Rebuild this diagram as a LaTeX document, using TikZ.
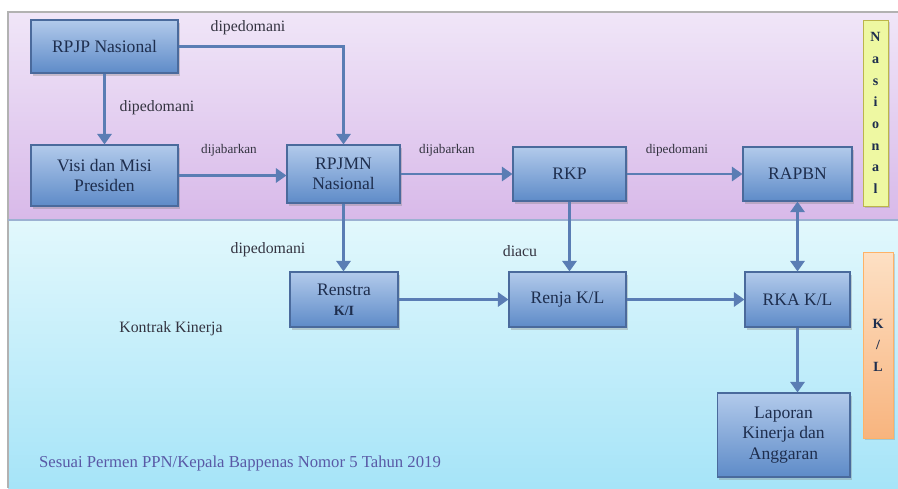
\documentclass[tikz,border=0pt]{standalone}
\usepackage{fontspec}
\setmainfont{Liberation Serif}
\usetikzlibrary{arrows.meta,shadows}

\definecolor{ungu1}{HTML}{F0E6F8}
\definecolor{ungu2}{HTML}{D8B9E9}
\definecolor{cyan1}{HTML}{E2F8FC}
\definecolor{cyan2}{HTML}{A6E4F8}
\definecolor{biru1}{HTML}{B2CAEB}
\definecolor{biru2}{HTML}{5E8BC8}
\definecolor{garis}{HTML}{4A6A9C}
\definecolor{alur}{HTML}{5A7DB4}
\definecolor{teks}{HTML}{1E2E4E}
\definecolor{teks2}{HTML}{333340}
\definecolor{hijau}{HTML}{EEF8A2}
\definecolor{oren1}{HTML}{FDE0C4}
\definecolor{oren2}{HTML}{F8B47E}

\tikzset{
  kotak/.style={draw=garis, line width=0.6pt, top color=biru1, bottom color=biru2,
    drop shadow={opacity=0.35, shadow xshift=1pt, shadow yshift=-1.5pt},
    align=center, text=teks, font=\fontsize{10}{11.5}\selectfont, inner sep=2pt},
  panah/.style={draw=alur, line width=1.6pt, -{Triangle[length=6pt,width=8pt]}},
  panahdua/.style={panah, {Triangle[length=6pt,width=8pt]}-{Triangle[length=6pt,width=8pt]}},
  ket/.style={font=\fontsize{9}{10}\selectfont, text=teks2},
  ketkecil/.style={font=\fontsize{7.5}{9}\selectfont, text=teks2},
  tegak/.style={align=center, text=teks, font=\bfseries\fontsize{8}{12.3}\selectfont,
    drop shadow={opacity=0.3, shadow xshift=1pt, shadow yshift=-1pt}}
}

\begin{document}
\begin{tikzpicture}[x=0.02cm,y=-0.02cm]
        \useasboundingbox (0,0) rectangle (898,488);

        \shade[top color=ungu1, bottom color=ungu2] (8,12) rectangle (898,220);
        \shade[top color=cyan1, bottom color=cyan2] (8,220) rectangle (898,488);
        \draw[gray!60, line width=0.8pt] (898,12) -- (8,12) -- (8,488);
        \draw[alur!60, line width=0.8pt] (8,220) -- (898,220);

        \node[kotak, minimum width=2.94cm, minimum height=1.06cm] (rpjp) at (104.5,46.5) {RPJP Nasional};
        \node[kotak, minimum width=2.94cm, minimum height=1.22cm] (visi) at (104.5,175.5) {Visi dan Misi\\Presiden};
        \node[kotak, minimum width=2.26cm, minimum height=1.16cm] (rpjmn) at (343.5,174) {RPJMN\\Nasional};
        \node[kotak, minimum width=2.26cm, minimum height=1.08cm] (rkp) at (569.5,174) {RKP};
        \node[kotak, minimum width=2.18cm, minimum height=1.08cm] (rapbn) at (797.5,174) {RAPBN};
        \node[kotak, minimum width=2.16cm, minimum height=1.1cm] (renstra) at (344,299.5) {Renstra\\{\fontsize{8}{9}\selectfont\bfseries K/I}};
        \node[kotak, minimum width=2.34cm, minimum height=1.1cm] (renja) at (567.5,299.5) {Renja K/L};
        \node[kotak, minimum width=2.1cm, minimum height=1.1cm] (rka) at (797.5,299.5) {RKA K/L};
        \node[kotak, minimum width=2.66cm, minimum height=1.68cm] (lapor) at (783.5,435) {Laporan\\Kinerja dan\\Anggaran};

        \node[tegak, draw=olive!60, fill=hijau, minimum width=0.5cm, minimum height=3.72cm] (nas) at (875.5,113) {N\\a\\s\\i\\o\\n\\a\\l};
        \node[tegak, draw=orange!60, top color=oren1, bottom color=oren2, minimum width=0.6cm, minimum height=3.72cm] (kl) at (878,345) {K\\/\\L};

        \draw[panah] (rpjp.east) -| (rpjmn.north);
        \draw[panah] (rpjp) -- (visi);
        \draw[panah] (visi.east) -- (visi.east -| rpjmn.west);
        \draw[panah] (rpjmn) -- (rkp);
        \draw[panah] (rkp) -- (rapbn);
        \draw[panah] (rpjmn.south) -- (rpjmn.south |- renstra.north);
        \draw[panah] (rkp.south) -- (rkp.south |- renja.north);
        \draw[panah] (renstra) -- (renja);
        \draw[panah] (renja) -- (rka);
        \draw[panahdua] (rapbn.south) -- (rapbn.south |- rka.north);
        \draw[panah] (rka.south) -- (rka.south |- lapor.north);

        \node[ket] (k1) at (248,28) {dipedomani};
        \node[ket] (k2) at (157,108) {dipedomani};
        \node[ketkecil] (k3) at (229,150) {dijabarkan};
        \node[ketkecil] (k4) at (447,150) {dijabarkan};
        \node[ketkecil] (k5) at (677,150) {dipedomani};
        \node[ket] (k6) at (268,250) {dipedomani};
        \node[ket] (k7) at (520,251) {diacu};
        \node[ket] (kontrak) at (171,329) {Kontrak Kinerja};
        \node[ket, text=gray!70!blue, font=\fontsize{9.5}{11}\selectfont] (sumber) at (240,463) {Sesuai Permen PPN/Kepala Bappenas Nomor 5 Tahun 2019};
\end{tikzpicture}
\end{document}
